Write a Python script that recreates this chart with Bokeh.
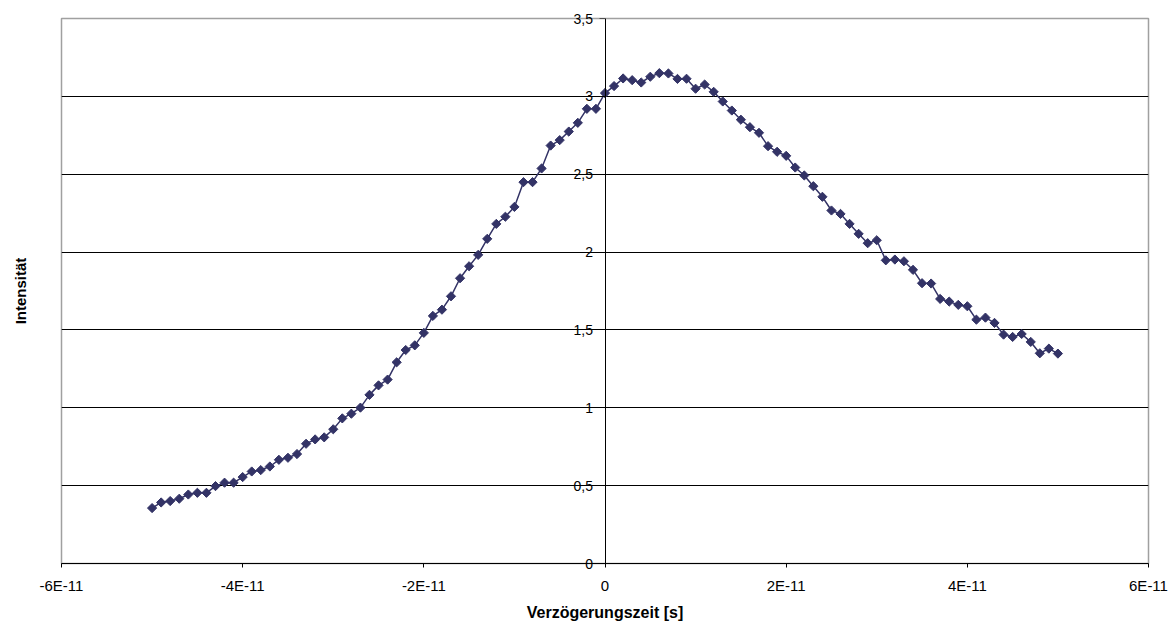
import math
from bokeh.plotting import figure
from bokeh.models import (Range1d, FixedTicker, CustomJSTickFormatter, Label,
                          ColumnDataSource)
from bokeh.embed import file_html
from bokeh.resources import INLINE

# delay in picoseconds (converted to seconds below)
delay_ps = [-50, -49, -48, -47, -46, -45, -44, -43, -42, -41,
            -40, -39, -38, -37, -36, -35, -34, -33, -32, -31,
            -30, -29, -28, -27, -26, -25, -24, -23, -22, -21,
            -20, -19, -18, -17, -16, -15, -14, -13, -12, -11,
            -10, -9, -8, -7, -6, -5, -4, -3, -2, -1,
            0, 1, 2, 3, 4, 5, 6, 7, 8, 9,
            10, 11, 12, 13, 14, 15, 16, 17, 18, 19,
            20, 21, 22, 23, 24, 25, 26, 27, 28, 29,
            30, 31, 32, 33, 34, 35, 36, 37, 38, 39,
            40, 41, 42, 43, 44, 45, 46, 47, 48, 49, 50]

intensity = [0.356, 0.392, 0.401, 0.416, 0.443, 0.454, 0.454, 0.497, 0.519, 0.519,
             0.555, 0.591, 0.600, 0.623, 0.666, 0.679, 0.703, 0.769, 0.797, 0.810,
             0.862, 0.932, 0.962, 1.001, 1.083, 1.144, 1.181, 1.292, 1.371, 1.401,
             1.481, 1.590, 1.630, 1.716, 1.832, 1.909, 1.982, 2.085, 2.181, 2.227,
             2.290, 2.449, 2.449, 2.537, 2.684, 2.719, 2.774, 2.830, 2.920, 2.920,
             3.021, 3.066, 3.115, 3.104, 3.089, 3.126, 3.149, 3.147, 3.112, 3.113,
             3.049, 3.076, 3.029, 2.967, 2.909, 2.850, 2.802, 2.766, 2.680, 2.644,
             2.618, 2.543, 2.492, 2.423, 2.355, 2.267, 2.245, 2.181, 2.117, 2.057,
             2.076, 1.947, 1.952, 1.941, 1.886, 1.800, 1.798, 1.699, 1.682, 1.661,
             1.652, 1.566, 1.579, 1.545, 1.470, 1.455, 1.474, 1.423, 1.350, 1.380, 1.348]

x_ticks = [-6e-11, -4e-11, -2e-11, 0.0, 2e-11, 4e-11, 6e-11]
y_ticks = [0.0, 0.5, 1.0, 1.5, 2.0, 2.5, 3.0, 3.5]
y_tick_labels = ["0", "0,5", "1", "1,5", "2", "2,5", "3", "3,5"]
grid_ticks = [0.5, 1.0, 1.5, 2.0, 2.5, 3.0]

x_label = "Verzögerungszeit [s]"
y_label = "Intensität"

delay_s = [d * 1e-12 for d in delay_ps]
src = ColumnDataSource(data=dict(x=delay_s, y=intensity))

FONT = "Liberation Sans"
COLOR = "#333366"
X0, X1 = -6e-11, 6e-11
Y0, Y1 = 0.0, 3.5

p = figure(width=1176, height=626, output_backend="svg", toolbar_location=None,
           x_range=Range1d(X0, X1), y_range=Range1d(Y0, Y1),
           min_border_left=61, min_border_right=28, min_border_top=18,
           min_border_bottom=63)
p.background_fill_color = "white"
p.border_fill_color = "white"
p.outline_line_color = "#a0a0a0"
p.outline_line_width = 1.5

p.xgrid.visible = False
p.ygrid.ticker = FixedTicker(ticks=grid_ticks)
p.ygrid.grid_line_color = "black"
p.ygrid.grid_line_width = 1

p.line("x", "y", source=src, line_color=COLOR, line_width=1.5)
p.scatter("x", "y", source=src, marker="square", angle=math.pi / 4, size=6.5,
          fill_color=COLOR, line_color=COLOR)

# x axis
xa = p.xaxis[0]
xa.ticker = FixedTicker(ticks=x_ticks)
xa.formatter = CustomJSTickFormatter(code="""
const m = Math.round(tick * 1e11);
return m == 0 ? "0" : m + "E-11";
""")
xa.axis_label = x_label
xa.axis_label_text_font = FONT
xa.axis_label_text_font_style = "bold"
xa.axis_label_text_font_size = "16px"
xa.axis_label_text_color = "black"
xa.axis_label_standoff = 7
xa.major_label_text_font = FONT
xa.major_label_text_font_size = "15px"
xa.major_label_text_color = "black"
xa.major_label_standoff = 9
xa.major_tick_out = 4
xa.major_tick_in = 0
xa.minor_tick_out = 0
xa.minor_tick_in = 0
xa.axis_line_color = "black"
xa.major_tick_line_color = "black"

# y axis drawn at x = 0; its labels are annotations (edge labels go in a side
# panel so that the frame does not clip them)
ya = p.yaxis[0]
ya.fixed_location = 0
ya.ticker = FixedTicker(ticks=y_ticks)
ya.major_label_text_font_size = "0px"
ya.major_label_text_alpha = 0
ya.major_tick_out = 6
ya.major_tick_in = 0
ya.minor_tick_out = 0
ya.minor_tick_in = 0
ya.axis_line_color = "black"
ya.major_tick_line_color = "black"

for t, lab in zip(y_ticks, y_tick_labels):
    lbl = Label(x=0, y=t, text=lab, x_offset=-12, text_align="right",
                text_baseline="middle", text_font=FONT,
                text_font_size="14px", text_color="black")
    if t in (Y0, Y1):
        p.add_layout(lbl, "right")
    else:
        p.add_layout(lbl)

p.add_layout(Label(x=X0, y=(Y0 + Y1) / 2, text=y_label, x_offset=-41,
                   angle=math.pi / 2, text_align="center",
                   text_baseline="middle", text_font=FONT,
                   text_font_style="bold", text_font_size="15px",
                   text_color="black"), "left")

open("out.html", "w").write(file_html(p, INLINE))
